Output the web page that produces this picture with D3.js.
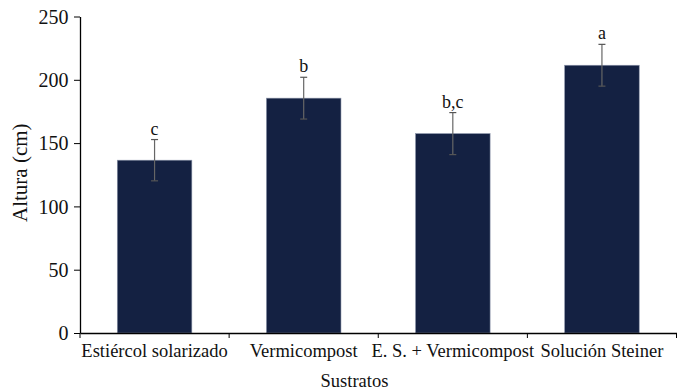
<!DOCTYPE html>
<html>
<head>
<meta charset="utf-8">
<script src="https://cdn.jsdelivr.net/npm/d3@7"></script>
<style>
  body { margin: 0; background: #fff; }
</style>
</head>
<body>
<div id="chart"></div>
<script>
var categories = ["Estiércol solarizado", "Vermicompost", "E. S. + Vermicompost", "Solución Steiner"]
var means = [136.5, 185.5, 157.5, 211.5]
var errors = [16.3, 16.5, 16.6, 16.5]
var letters = ["c", "b", "b,c", "a"]
var yTicks = [0, 50, 100, 150, 200, 250]

var FONT = "'Liberation Serif', 'Times New Roman', Times, serif"

var margin = { top: 16.5, right: 8, bottom: 57, left: 80 }
var width = 685 - margin.left - margin.right,
    height = 390 - margin.top - margin.bottom

var svg = d3.select("#chart").append("svg")
    .attr("width", 685)
    .attr("height", 390)
    .append("g")
    .attr("transform", "translate(" + margin.left + "," + margin.top + ")")

var x = d3.scaleBand().domain(categories).range([0, width - 0.5]).paddingInner(0.5).paddingOuter(0.25)
var y = d3.scaleLinear().domain([0, 250]).range([height, 0])

// bars
svg.selectAll("rect.bar")
  .data(categories)
  .enter().append("rect")
  .attr("class", "bar")
  .attr("x", function (d) { return x(d) })
  .attr("width", x.bandwidth())
  .attr("y", function (d, i) { return y(means[i]) })
  .attr("height", function (d, i) { return height - y(means[i]) })
  .attr("fill", "#142142")
  .attr("stroke", "#8a93a8")
  .attr("stroke-width", 0.6)

// error bars
var eb = svg.selectAll("g.err").data(categories).enter().append("g")
  .attr("transform", function (d) { return "translate(" + (x(d) + x.bandwidth() / 2) + ",0)" })
eb.append("line")
  .attr("y1", function (d, i) { return y(means[i] + errors[i]) })
  .attr("y2", function (d, i) { return y(means[i] - errors[i]) })
  .attr("stroke", "#666").attr("stroke-width", 1.2)
eb.append("line")
  .attr("x1", -3.5).attr("x2", 3.5)
  .attr("y1", function (d, i) { return y(means[i] + errors[i]) })
  .attr("y2", function (d, i) { return y(means[i] + errors[i]) })
  .attr("stroke", "#555").attr("stroke-width", 1.2)
eb.append("line")
  .attr("x1", -3.5).attr("x2", 3.5)
  .attr("y1", function (d, i) { return y(means[i] - errors[i]) })
  .attr("y2", function (d, i) { return y(means[i] - errors[i]) })
  .attr("stroke", "#555").attr("stroke-width", 1.2)
eb.append("text")
  .attr("text-anchor", "middle")
  .attr("y", function (d, i) { return y(means[i] + errors[i]) - 5 })
  .style("font-size", "18px")
  .text(function (d, i) { return letters[i] })

// y axis
var yAxis = d3.axisLeft(y).tickValues(yTicks).tickSize(6).tickSizeOuter(0)
var gy = svg.append("g").attr("class", "axis y-axis").call(yAxis)
gy.selectAll("text").style("font-size", "20px").attr("x", -11.5).attr("dy", "0.34em")

// x axis
var xAxis = d3.axisBottom(x).tickSize(0).tickSizeOuter(0)
var gx = svg.append("g").attr("class", "axis x-axis")
  .attr("transform", "translate(0," + height + ")")
  .call(xAxis)
gx.selectAll("text").style("font-size", "18.5px").attr("y", 11).attr("dy", "0.71em")
gx.selectAll(".tick line").remove()

// band boundary ticks
var bounds = categories.map(function (d) { return x(d) - x.step() * x.paddingInner() / 2 })
bounds.push(width - 0.5)
gx.selectAll("line.bound").data(bounds).enter().append("line")
  .attr("class", "bound")
  .attr("x1", function (d) { return d }).attr("x2", function (d) { return d })
  .attr("y1", 0).attr("y2", 5)
  .attr("stroke", "#000")

svg.selectAll(".domain").attr("stroke", "#000").attr("stroke-width", 1.3)
svg.selectAll(".tick line").attr("stroke", "#000")

// axis titles
svg.append("text")
  .attr("transform", "translate(-53," + (height / 2 - 2) + ") rotate(-90)")
  .attr("text-anchor", "middle")
  .style("font-size", "21px")
  .text("Altura (cm)")

svg.append("text")
  .attr("x", width / 2 - 24).attr("y", height + 54)
  .attr("text-anchor", "middle")
  .style("font-size", "18.5px")
  .text("Sustratos")

d3.selectAll("svg text").style("font-family", FONT).attr("font-family", null).style("fill", "#111")
d3.selectAll("svg g.axis").attr("font-family", null)
</script>
</body>
</html>
